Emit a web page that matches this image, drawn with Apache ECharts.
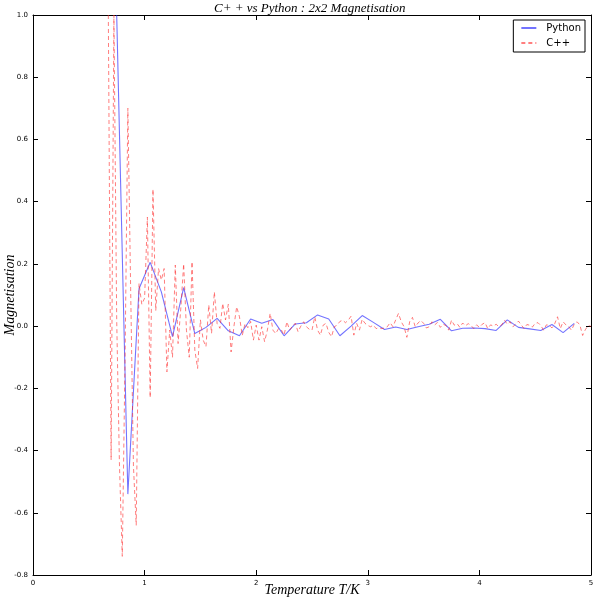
<!DOCTYPE html>
<html><head><meta charset="utf-8">
<script src="https://cdn.jsdelivr.net/npm/echarts@6/dist/echarts.min.js"></script>
<style>html,body{margin:0;padding:0;background:#fff}#c{width:595px;height:600px}</style>
</head><body><div id="c"></div>
<script>
// Python series (temperature, magnetisation)
const pyTemp = [0.75,0.85,0.95,1.05,1.15,1.25,1.35,1.45,1.55,1.65,
  1.75,1.85,1.95,2.05,2.15,2.25,2.35,2.45,2.55,2.65,
  2.75,2.85,2.95,3.05,3.15,3.25,3.35,3.45,3.55,3.65,
  3.75,3.85,3.95,4.05,4.15,4.25,4.35,4.45,4.55,4.65,
  4.75,4.85];
const pyMag = [1.0,-0.54,0.12,0.205,0.11,-0.034,0.124,-0.024,-0.004,0.025,
  -0.015,-0.031,0.023,0.009,0.021,-0.031,0.007,0.011,0.036,0.023,
  -0.031,0.0,0.034,0.012,-0.011,-0.003,-0.011,-0.002,0.006,0.022,
  -0.015,-0.007,-0.006,-0.008,-0.014,0.020,-0.004,-0.009,-0.014,0.005,
  -0.021,0.009];

// C++ series
const cppTemp = [0.675,0.7,0.725,0.75,0.775,0.8,0.825,0.85,0.875,0.9,
  0.925,0.95,0.975,1.0,1.025,1.05,1.075,1.1,1.125,1.15,
  1.175,1.2,1.225,1.25,1.275,1.3,1.325,1.35,1.375,1.4,
  1.425,1.45,1.475,1.5,1.525,1.55,1.575,1.6,1.625,1.65,
  1.675,1.7,1.725,1.75,1.775,1.8,1.825,1.85,1.875,1.9,
  1.925,1.95,1.975,2.0,2.025,2.05,2.075,2.1,2.125,2.15,
  2.175,2.2,2.225,2.25,2.275,2.3,2.325,2.35,2.375,2.4,
  2.425,2.45,2.475,2.5,2.525,2.55,2.575,2.6,2.625,2.65,
  2.675,2.7,2.725,2.75,2.775,2.8,2.825,2.85,2.875,2.9,
  2.925,2.95,2.975,3.0,3.025,3.05,3.075,3.1,3.125,3.15,
  3.175,3.2,3.225,3.25,3.275,3.3,3.325,3.35,3.375,3.4,
  3.425,3.45,3.475,3.5,3.525,3.55,3.575,3.6,3.625,3.65,
  3.675,3.7,3.725,3.75,3.775,3.8,3.825,3.85,3.875,3.9,
  3.925,3.95,3.975,4.0,4.025,4.05,4.075,4.1,4.125,4.15,
  4.175,4.2,4.225,4.25,4.275,4.3,4.325,4.35,4.375,4.4,
  4.425,4.45,4.475,4.5,4.525,4.55,4.575,4.6,4.625,4.65,
  4.675,4.7,4.725,4.75,4.775,4.8,4.825,4.85,4.875,4.9,
  4.925,4.95,4.975,5.0];
const cppMag = [1.0,-0.43,1.0,0.02,-0.45,-0.74,-0.1,0.70,0.12,-0.45,
  -0.64,0.137,0.07,0.09,0.35,-0.23,0.44,0.05,0.185,0.148,
  0.185,-0.147,-0.013,-0.1,0.196,-0.056,0.06,0.2,-0.013,-0.1,
  0.207,-0.077,-0.136,0.02,-0.045,-0.066,0.068,-0.023,0.11,0.008,
  -0.007,0.073,0.02,0.07,-0.083,-0.002,0.062,0.03,-0.03,0.008,
  -0.005,0.015,-0.045,0.003,-0.045,-0.002,-0.05,-0.013,0.041,-0.013,
  -0.024,-0.008,-0.012,-0.029,0.014,-0.013,0.0,0.009,-0.018,0.0,
  0.014,-0.002,-0.01,-0.013,0.03,-0.013,-0.029,0.003,0.009,-0.02,
  -0.034,-0.002,0.003,0.015,0.019,0.011,0.019,0.032,-0.029,0.009,
  -0.013,0.022,0.009,0.002,-0.002,0.003,-0.008,-0.005,-0.008,-0.006,
  -0.002,0.011,-0.002,0.02,0.041,0.014,-0.002,-0.036,0.014,0.028,
  -0.002,0.01,0.018,0.009,-0.006,-0.002,0.014,0.004,0.012,-0.004,
  0.006,0.002,-0.013,0.019,0.003,0.008,-0.004,0.010,0.001,0.008,
  0.002,-0.008,0.004,-0.004,0.006,0.011,-0.008,0.004,0.0,0.006,
  -0.002,0.004,0.019,0.006,0.014,-0.002,0.006,0.016,0.004,-0.008,
  0.005,0.003,-0.003,0.009,0.011,0.002,-0.013,0.004,0.003,-0.006,
  0.008,0.030,-0.008,0.014,0.004,-0.002,-0.013,0.006,0.014,0.004,
  -0.03,-0.011,0.002,-0.001];

const xTicks = [0,1,2,3,4,5];
const yTicks = [-0.8,-0.6,-0.4,-0.2,0.0,0.2,0.4,0.6,0.8,1.0];

const pyData = pyTemp.map((t,i)=>[t,pyMag[i]]);
const cppData = cppTemp.map((t,i)=>[t,cppMag[i]]);

const chart = echarts.init(document.getElementById('c'));
const serifItalic = {fontFamily:'Liberation Serif', fontStyle:'italic', fontWeight:'normal', color:'#000'};
const tickLbl = {fontSize:7, color:'#000', fontFamily:'DejaVu Sans'};
function xAx(pos, show){
  return {type:'value', min:xTicks[0], max:xTicks[xTicks.length-1], interval:1, position:pos,
    axisLine:{show:true, onZero:false, lineStyle:{color:'#000', width:1}},
    axisTick:{show:true, inside:true, length:5, lineStyle:{color:'#000'}},
    axisLabel:{show:show, margin:5, ...tickLbl, formatter:v=>String(v)},
    splitLine:{show:false}};
}
function yAx(pos, show){
  return {type:'value', min:yTicks[0], max:yTicks[yTicks.length-1], interval:0.2, position:pos,
    axisLine:{show:true, onZero:false, lineStyle:{color:'#000', width:1}},
    axisTick:{show:true, inside:true, length:5, lineStyle:{color:'#000'}},
    axisLabel:{show:show, margin:5, ...tickLbl, formatter:v=>v.toFixed(1)},
    splitLine:{show:false}};
}
const xa0 = xAx('bottom', true);
xa0.name = 'Temperature T/K'; xa0.nameLocation='middle'; xa0.nameGap=8;
xa0.nameMoveOverlap = false;
xa0.nameTextStyle = {...serifItalic, fontSize:14, verticalAlign:'top'};
const ya0 = yAx('left', true);
ya0.name = 'Magnetisation'; ya0.nameLocation='middle'; ya0.nameGap=16;
ya0.nameMoveOverlap = false;
ya0.nameTextStyle = {...serifItalic, fontSize:14};

chart.setOption({
  animation:false,
  backgroundColor:'#fff',
  title:{text:'C+ + vs Python : 2x2 Magnetisation', left:214, top:2, padding:0,
    textStyle:{...serifItalic, fontSize:13}},
  grid:{left:33, right:4, top:15, bottom:25, containLabel:false, outerBoundsMode:'none'},
  legend:{right:10, top:20, orient:'vertical', align:'left',
    backgroundColor:'#fff', borderColor:'#000', borderWidth:1, borderRadius:0,
    padding:[3,4,4,7], itemGap:5, itemWidth:15, itemHeight:10,
    itemStyle:{opacity:0},
    textStyle:{fontFamily:'DejaVu Sans', fontSize:10, color:'#000', padding:[0,0,0,5]},
    data:['Python','C++']},
  xAxis:[xa0, xAx('top', false)],
  yAxis:[ya0, yAx('right', false)],
  series:[
    {name:'Python', type:'line', xAxisIndex:0, yAxisIndex:0, data:pyData,
      symbol:'none', showSymbol:false, clip:true,
      lineStyle:{color:'rgba(40,40,255,0.65)', width:1.1},
      itemStyle:{color:'rgba(40,40,255,0.65)'}},
    {name:'C++', type:'line', xAxisIndex:0, yAxisIndex:0, data:cppData,
      symbol:'none', showSymbol:false, clip:true,
      lineStyle:{color:'rgba(255,40,40,0.6)', width:1, type:[4,3]},
      itemStyle:{color:'rgba(255,40,40,0.6)'}}
  ]
});
</script></body></html>
